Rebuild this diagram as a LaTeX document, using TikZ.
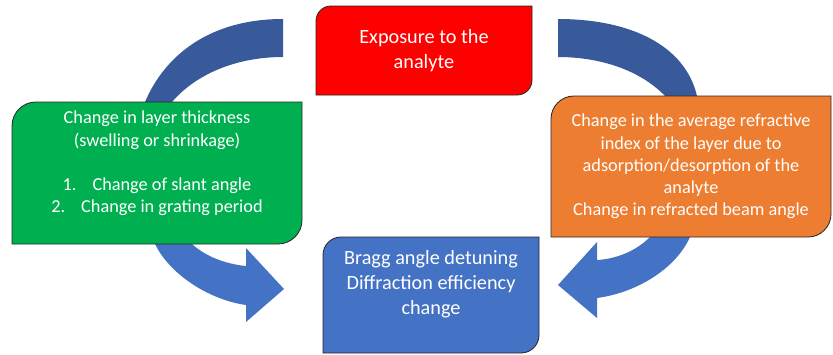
\documentclass[tikz,border=0pt]{standalone}
\usepackage{fontspec}
\setmainfont{Carlito}
\usepackage{xcolor}
\pgfdeclarelayer{background}
\pgfsetlayers{background,main}
\definecolor{arcblue}{RGB}{56,90,155}
\definecolor{arrowblue}{RGB}{68,114,196}
\definecolor{boxgreen}{RGB}{0,176,80}
\definecolor{boxorange}{RGB}{237,125,49}
\definecolor{boxline}{RGB}{40,40,40}
% box with rounded top left and bottom right corners: name, fill, radius
\newcommand{\cornerbox}[3]{%
  \filldraw[fill=#2,draw=boxline,line width=0.6pt]
    (#1.south west) -- ([yshift=-#3]#1.north west)
    arc[start angle=180,end angle=90,radius=#3]
    -- (#1.north east) -- ([yshift=#3]#1.south east)
    arc[start angle=0,end angle=-90,radius=#3] -- cycle;}

\begin{document}
\begin{tikzpicture}[
  stagebox/.style={align=center,text=white,inner sep=0pt,outer sep=0pt},
  bigtext/.style={font=\fontsize{14.4}{17.6}\selectfont},
  smalltext/.style={font=\fontsize{13}{15.8}\selectfont}]
  \useasboundingbox (0,0) rectangle (20.825,8.85);
  % Boxes
  \node[stagebox,bigtext,minimum width=5.4cm,minimum height=2.225cm] (expo) at (10.6,7.5875)
    {Exposure to the\\analyte};
  \node[stagebox,smalltext,minimum width=7.25cm,minimum height=3.55cm] (thick) at (3.925,4.525)
    {Change in layer thickness\\(swelling or shrinkage)\\\mbox{}\\
     1.\hspace{0.4cm}Change of slant angle\\2.\hspace{0.4cm}Change in grating period\\\mbox{}};
  \node[stagebox,smalltext,minimum width=7.0cm,minimum height=3.525cm] (index) at (17.275,4.6875)
    {Change in the average refractive\\index of the layer due to\\adsorption/desorption of the\\analyte\\Change in refracted beam angle};
  \node[stagebox,bigtext,minimum width=5.4cm,minimum height=2.9cm] (bragg) at (10.775,1.475)
    {Bragg angle detuning\\Diffraction efficiency\\change\\\mbox{}};
  \begin{pgfonlayer}{background}
    % Upper arcs
    \fill[arcblue] (7.075,8.375) .. controls (5.25,8.375) and (4.125,7.475) .. (3.625,6.3)
      -- (3.45,5.725) -- (4.075,5.725) -- (4.3,6.3)
      .. controls (4.875,6.975) and (5.875,7.425) .. (7.075,7.425) -- cycle;
    \fill[arcblue] (13.95,8.375) .. controls (15.75,8.375) and (17.125,7.725) .. (17.425,6.45)
      -- (17.575,5.85) -- (16.875,5.85) -- (16.625,6.45)
      .. controls (16.0,7.1) and (15.0,7.425) .. (13.95,7.425) -- cycle;
    % Lower arrows
    \fill[arrowblue] (3.75,3.1) -- (3.875,2.75) .. controls (4.25,1.975) and (5.25,1.35) .. (6.15,1.225)
      -- (6.15,0.8) -- (7.1,1.625) -- (6.15,2.65) -- (6.15,2.2)
      .. controls (5.625,2.25) and (5.125,2.45) .. (4.8,2.75) -- (4.625,3.1) -- cycle;
    \fill[arrowblue] (17.425,3.35) -- (17.25,2.925) .. controls (16.875,2.1) and (15.875,1.525) .. (14.925,1.4)
      -- (14.925,0.9) -- (13.95,1.725) -- (14.925,2.8) -- (14.925,2.35)
      .. controls (15.375,2.375) and (15.875,2.55) .. (16.25,2.925) -- (16.5,3.35) -- cycle;
    % Box shapes
    \cornerbox{expo}{red}{0.375cm}
    \cornerbox{thick}{boxgreen}{0.6cm}
    \cornerbox{index}{boxorange}{0.575cm}
    \cornerbox{bragg}{arrowblue}{0.45cm}
  \end{pgfonlayer}
\end{tikzpicture}
\end{document}
